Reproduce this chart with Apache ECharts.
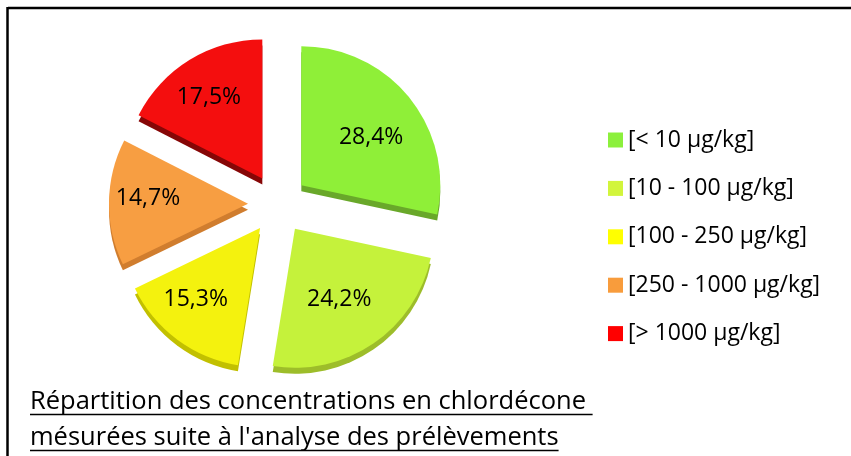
<!DOCTYPE html>
<html>
<head>
<meta charset="utf-8">
<script src="https://cdn.jsdelivr.net/npm/echarts@6/dist/echarts.min.js"></script>
<style>
  html, body { margin: 0; padding: 0; background: #fff; }
  #chart { width: 851px; height: 456px; }
</style>
</head>
<body>
<div id="chart"></div>
<script>
// ---- data ----
var categories = ['[< 10 µg/kg]', '[10 - 100 µg/kg]', '[100 - 250 µg/kg]', '[250 - 1000 µg/kg]', '[> 1000 µg/kg]'];
var values = [28.4, 24.2, 15.3, 14.7, 17.5];
var sliceColors = ['#8FEF38', '#C5F23B', '#F4F20E', '#F79E42', '#F40E0E'];
var sideColors = ['#69A82A', '#9DBD2A', '#C2C000', '#D07D2E', '#860606'];
var legendColors = ['#8CF03C', '#D2F53C', '#FFFF00', '#F89C3C', '#FF0000'];
var titleLines = ['Répartition des concentrations en chlordécone ', "mésurées suite à l'analyse des prélèvements"];

// ---- layout ----
var FONT = '"Open Sans", "Liberation Sans", sans-serif';
var cx = 278, cy = 204, R = 139, OFF = 30, DEPTH = 6;
// label nudges [dx, dy] (layout only)
var labelShift = [[-1, 9], [-7, -4], [-10, -2], [-9, -4], [-6, -3]];

function fmt(v) { return v.toFixed(1).replace('.', ',') + '%'; }
function xPadding(s) {
  var dx = s[0];
  return [0, dx < 0 ? -2 * dx : 0, 0, dx > 0 ? 2 * dx : 0];
}

var rich = { v: { fontFamily: FONT, fontSize: 23, color: '#000', lineHeight: 30 } };
labelShift.forEach(function (s, i) {
  rich['g' + i] = { fontSize: 1, lineHeight: Math.max(1, 2 * Math.abs(s[1])) };
});

var topData = categories.map(function (c, i) {
  return { name: c, value: values[i], selected: true, itemStyle: { color: sliceColors[i] } };
});
var sideData = categories.map(function (c, i) {
  return { name: c, value: values[i], selected: true, itemStyle: { color: sideColors[i] } };
});
var labelData = categories.map(function (c, i) {
  return { name: c, value: values[i], selected: true, itemStyle: { color: 'rgba(0,0,0,0)' },
           label: { padding: xPadding(labelShift[i]) } };
});

// measure title for underline
var ctx = document.createElement('canvas').getContext('2d');
var TITLE_SIZE = 25.5;
ctx.font = TITLE_SIZE + 'px ' + FONT;
var titleX = 30, baselines = [410, 446];
var graphics = [
  { type: 'line', shape: { x1: 8, y1: 8, x2: 851, y2: 8 }, style: { stroke: '#000', lineWidth: 2.5 } },
  { type: 'line', shape: { x1: 7.5, y1: 7, x2: 7.5, y2: 456 }, style: { stroke: '#000', lineWidth: 2.5 } }
];
titleLines.forEach(function (t, i) {
  var w = ctx.measureText(t).width;
  graphics.push({
    type: 'text', left: titleX, top: baselines[i] - TITLE_SIZE * 0.78 - 1,
    style: { text: t, font: TITLE_SIZE + 'px ' + FONT, fill: '#000' }
  });
  graphics.push({
    type: 'line', shape: { x1: titleX, y1: baselines[i] + 4.5, x2: titleX + w, y2: baselines[i] + 4.5 },
    style: { stroke: '#000', lineWidth: 1.6 }
  });
});

var common = {
  type: 'pie', startAngle: 90, clockwise: true, selectedMode: 'multiple', selectedOffset: OFF,
  avoidLabelOverlap: false, labelLine: { show: false }, emphasis: { disabled: true },
  animation: false
};

var option = {
  animation: false,
  legend: {
    orient: 'vertical', left: 603, top: 122,
    itemWidth: 15, itemHeight: 15, itemGap: 22.4, icon: 'rect',
    selectedMode: false,
    textStyle: { fontFamily: FONT, fontSize: 23, color: '#000', lineHeight: 26 },
    data: categories.map(function (c, i) { return { name: c, itemStyle: { color: legendColors[i] } }; })
  },
  graphic: graphics,
  series: [
    Object.assign({}, common, {
      name: 'side', center: [cx, cy + DEPTH], radius: [0, R], z: 1, silent: true,
      label: { show: false }, data: sideData
    }),
    Object.assign({}, common, {
      name: 'top', center: [cx, cy], radius: [0, R], z: 2,
      label: { show: false }, data: topData
    }),
    Object.assign({}, common, {
      name: 'labels', center: [cx, cy], radius: [0, 176], z: 3, silent: true,
      itemStyle: { color: 'rgba(0,0,0,0)' },
      label: {
        show: true, position: 'inside', color: '#000', fontFamily: FONT, fontSize: 23,
        rich: rich,
        formatter: function (p) {
          var i = p.dataIndex, dy = labelShift[i][1];
          var t = '{v|' + fmt(p.value) + '}';
          if (dy > 0) return '{g' + i + '| }\n' + t;
          if (dy < 0) return t + '\n{g' + i + '| }';
          return t;
        }
      },
      data: labelData
    })
  ]
};

var chart = echarts.init(document.getElementById('chart'), null, { renderer: 'canvas' });
chart.setOption(option);
</script>
</body>
</html>
